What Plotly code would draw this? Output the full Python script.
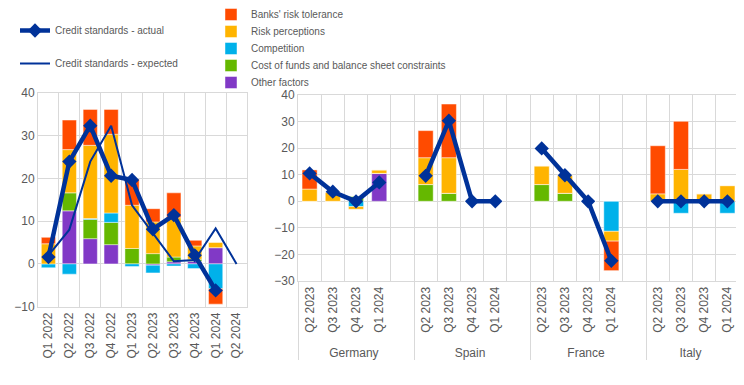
import plotly.graph_objects as go

# ---------------- data ----------------
quarters_left = ["Q1 2022", "Q2 2022", "Q3 2022", "Q4 2022", "Q1 2023",
                 "Q2 2023", "Q3 2023", "Q4 2023", "Q1 2024", "Q2 2024"]
tol_left = [1.5, 6.9, 8.4, 5.8, 6.1, 3.1, 5.8, 1.3, -3.6, None]
perc_left = [4.7, 10.1, 17.1, 18.4, 10.1, 7.4, 9.2, 3.1, 1.2, None]
comp_left = [-0.9, -2.4, 0.2, 2.2, -0.6, -1.8, -0.5, -1.1, -5.8, None]
cost_left = [0.0, 4.2, 4.5, 5.2, 3.6, 2.4, 1.1, 0.5, 0.0, None]
other_left = [0.0, 12.4, 5.9, 4.5, 0.0, -0.3, 0.5, 0.6, 3.8, None]
actual_left = [1.6, 23.9, 32.3, 20.6, 19.6, 8.1, 11.4, 2.0, -6.2, None]
expected_left = [2.0, 8.0, 23.9, 32.3, 13.7, 7.2, 0.6, 0.9, 8.3, 0.0]

countries = ["Germany", "Spain", "France", "Italy"]
quarters_right = ["Q2 2023", "Q3 2023", "Q4 2023", "Q1 2024"]
tol_right = {"Germany": [7.2, 0, 0, 0], "Spain": [10.2, 20.2, 0, 0],
             "France": [0, 0, 0, -11.1], "Italy": [18.1, 18.1, 0, 0]}
perc_right = {"Germany": [4.6, 3.4, -1.0, 1.3], "Spain": [10.1, 13.4, 0, 0],
              "France": [7.0, 6.8, 0, -3.7], "Italy": [2.8, 12.0, 2.8, 5.9]}
comp_right = {"Germany": [0, 0, -2.0, 0], "Spain": [0, 0, 0, 0],
              "France": [0, 0, 0, -11.3], "Italy": [0, -4.5, 0, -4.5]}
cost_right = {"Germany": [0, 0, 1.9, 0], "Spain": [6.3, 3.0, 0, 0],
              "France": [6.3, 3.0, 0, 0], "Italy": [0, 0, 0, 0]}
other_right = {"Germany": [0, 0, 0, 10.5], "Spain": [0, 0, 0, 0],
               "France": [0, 0, 0, 0], "Italy": [0, 0, 0, 0]}
actual_right = {"Germany": [10.5, 3.6, 0.0, 7.1], "Spain": [9.6, 30.3, 0.0, 0.0],
                "France": [19.9, 9.8, 0.0, -22.4], "Italy": [0.0, 0.0, 0.0, 0.0]}

factor_names = ["Other factors", "Cost of funds and balance sheet constraints",
                "Competition", "Risk perceptions", "Banks' risk tolerance"]
factor_colors = ["#8139C6", "#65B800", "#00B1EA", "#FFB400", "#FF4B00"]
left_series = [other_left, cost_left, comp_left, perc_left, tol_left]
right_series = [other_right, cost_right, comp_right, perc_right, tol_right]

DARK_BLUE = "#003299"
GRID = "#D9D9D9"
TXT = "#595959"
FONT = "Liberation Sans, Arial, sans-serif"


def build_right(values_by_country):
    """Flatten per-country values, adding an empty slot after each group but the last."""
    g, q, v = [], [], []
    for i, c in enumerate(countries):
        for j, qq in enumerate(quarters_right):
            g.append(c)
            q.append(qq)
            v.append(values_by_country[c][j])
        if i < len(countries) - 1:
            g.append(c)
            q.append(" ")
            v.append(None)
    return [g, q], v


fig = go.Figure()

# one single-item legend per factor (legend2 = top row ... legend6 = bottom row)
factor_legend = {name: "legend%d" % (6 - k) for k, name in enumerate(factor_names)}

bar_line = dict(color="rgba(255,255,255,0.45)", width=1)
# bars - left panel
for name, col, vals in zip(factor_names, factor_colors, left_series):
    fig.add_trace(go.Bar(x=quarters_left, y=vals, name=name, marker_color=col,
                         marker_line=bar_line, width=0.68, legend=factor_legend[name],
                         legendgroup=name, showlegend=True, xaxis="x", yaxis="y"))
# bars - right panel
for name, col, vals in zip(factor_names, factor_colors, right_series):
    xx, yy = build_right(vals)
    fig.add_trace(go.Bar(x=xx, y=yy, name=name, marker_color=col,
                         marker_line=bar_line, width=0.65, legend=factor_legend[name],
                         legendgroup=name, showlegend=False, xaxis="x2", yaxis="y2"))

# lines - left panel
fig.add_trace(go.Scatter(x=quarters_left, y=actual_left, name="Credit standards - actual",
                         mode="lines+markers", line=dict(color=DARK_BLUE, width=4.5),
                         marker=dict(symbol="diamond", size=11, color=DARK_BLUE),
                         legend="legend", legendgroup="a", xaxis="x", yaxis="y"))
fig.add_trace(go.Scatter(x=quarters_left, y=expected_left, name="Credit standards - expected",
                         mode="lines", line=dict(color=DARK_BLUE, width=2),
                         legend="legend", legendgroup="b", xaxis="x", yaxis="y"))
# line - right panel
xx, yy = build_right(actual_right)
fig.add_trace(go.Scatter(x=xx, y=yy, name="Credit standards - actual",
                         mode="lines+markers", line=dict(color=DARK_BLUE, width=4.5),
                         marker=dict(symbol="diamond", size=11, color=DARK_BLUE),
                         showlegend=False, connectgaps=False, xaxis="x2", yaxis="y2"))

# page body has an 8px margin: work in window pixels and convert
OFF = 8
W, H = 736, 377


def fx(px):
    return (px - OFF) / W


def fy(py):
    return (H - (py - OFF)) / H


axis_common = dict(showgrid=True, gridcolor=GRID, gridwidth=1, zeroline=False,
                   showline=True, linecolor=GRID, mirror=True, ticks="",
                   tickfont=dict(family=FONT, size=12, color=TXT), automargin=False)

LEG_FONT = dict(family=FONT, size=10, color=TXT)
ITEM_OFFSET = 14  # distance from legend top to centre of its first item
factor_rows = [14, 31, 48, 65, 82]  # window y of each factor legend row (top to bottom)

layout_legends = dict(
    legend=dict(x=fx(15), y=fy(30 - ITEM_OFFSET), xanchor="left", yanchor="top",
                traceorder="grouped", tracegroupgap=14, bgcolor="rgba(0,0,0,0)",
                font=LEG_FONT),
)
for i, row_y in enumerate(factor_rows):
    layout_legends["legend%d" % (i + 2)] = dict(
        x=fx(211), y=fy(row_y - ITEM_OFFSET), xanchor="left", yanchor="top",
        bgcolor="rgba(0,0,0,0)", font=LEG_FONT)

fig.update_layout(
    width=W, height=H, margin=dict(l=0, r=0, t=0, b=0, autoexpand=False),
    paper_bgcolor="white", plot_bgcolor="white",
    barmode="relative",
    font=dict(family=FONT, size=12, color=TXT),
    xaxis=dict(domain=[fx(38), fx(247)], anchor="y", type="category",
               range=[-0.5, len(quarters_left) - 0.5],
               tickson="boundaries", tickangle=-90, **axis_common),
    yaxis=dict(domain=[fy(306.7), fy(92.7)], anchor="x", range=[-10, 40],
               dtick=10, **axis_common),
    xaxis2=dict(domain=[fx(298), fx(739)], anchor="y2", type="multicategory",
                range=[-0.5, 18.5],
                tickangle=-90, showdividers=True, dividercolor=GRID, dividerwidth=1,
                **axis_common),
    yaxis2=dict(domain=[fy(281), fy(95)], anchor="x2", range=[-30, 40],
                dtick=10, **axis_common),
    **layout_legends,
)

fig.write_html("out.html")
